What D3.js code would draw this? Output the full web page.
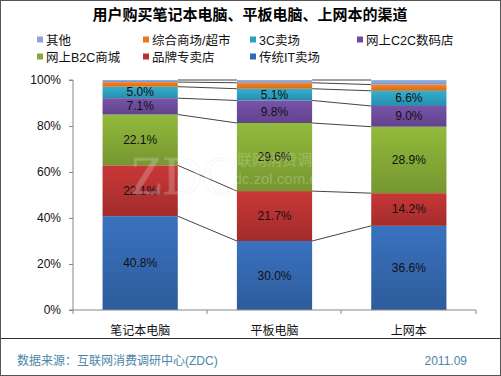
<!DOCTYPE html>
<html>
<head>
<meta charset="utf-8">
<script src="https://cdn.jsdelivr.net/npm/d3@7"></script>
<style>
  body { margin: 0; background: #fff; }
  svg { display: block; font-family: "Liberation Sans", Arial, "Noto Sans CJK SC", sans-serif; }
</style>
</head>
<body>
<svg width="501" height="376"></svg>
<script>
var categories = ["笔记本电脑", "平板电脑", "上网本"];
var seriesNames = ["传统IT卖场", "品牌专卖店", "网上B2C商城", "网上C2C数码店", "3C卖场", "综合商场/超市", "其他"];
var colors = ["#3468b0", "#b83232", "#86aa36", "#6e4c9c", "#2ea0c0", "#e87a1c", "#8aa6d8"];
var itStore = [40.8, 30.0, 36.6];
var brandStore = [22.1, 21.7, 14.2];
var b2c = [22.1, 29.6, 28.9];
var c2c = [7.1, 9.8, 9.0];
var store3c = [5.0, 5.1, 6.6];
var mall = [2.0, 2.6, 2.7];
var other = [0.9, 1.2, 2.0];
var yTicks = [0, 20, 40, 60, 80, 100];
var legendOrder = ["其他", "综合商场/超市", "3C卖场", "网上C2C数码店", "网上B2C商城", "品牌专卖店", "传统IT卖场"];

var values = [itStore, brandStore, b2c, c2c, store3c, mall, other];
var rows = categories.map(function(c, i) {
    var r = {cat: c};
    seriesNames.forEach(function(s, j) { r[s] = values[j][i]; });
    return r;
});

var svg = d3.select("svg");

// frame
svg.append("rect").attr("x", 0.5).attr("y", 0.5).attr("width", 500).attr("height", 375)
    .attr("fill", "#fff").attr("stroke", "#555");

var defs = svg.append("defs");
colors.forEach(function(c, i) {
    var g = defs.append("linearGradient").attr("id", "g" + i)
        .attr("x1", 0).attr("y1", 0).attr("x2", 0).attr("y2", 1);
    g.append("stop").attr("offset", "0%").attr("stop-color", d3.color(c).brighter(0.25));
    g.append("stop").attr("offset", "100%").attr("stop-color", d3.color(c).darker(0.35));
});

svg.append("text").attr("x", 250).attr("y", 20).attr("text-anchor", "middle")
    .style("font-size", "15px").style("font-weight", "bold")
    .style("font-family", "'Noto Sans CJK SC', sans-serif")
    .text("用户购买笔记本电脑、平板电脑、上网本的渠道");

// legend
var legendX = [37, 143, 250, 357];
var legendY = [40, 57];
legendOrder.forEach(function(name, i) {
    var col = i % 4, row = Math.floor(i / 4);
    var idx = seriesNames.indexOf(name);
    var g = svg.append("g").attr("transform", "translate(" + legendX[col] + "," + legendY[row] + ")");
    g.append("rect").attr("x", 0).attr("y", -3.5).attr("width", 6).attr("height", 6).attr("fill", colors[idx]);
    g.append("text").attr("x", 9).attr("y", 5).style("font-size", "12.5px").attr("fill", "#111").text(name);
});

var x = d3.scaleBand().domain(categories).range([73, 476]).paddingInner(0.44).paddingOuter(0.22);
var y = d3.scaleLinear().domain([0, 100]).range([310, 80]);

var stack = d3.stack().keys(seriesNames);
var series = stack(rows);

// connector lines
var lineG = svg.append("g");
series.forEach(function(s) {
    for (var i = 0; i < s.length - 1; i++) {
        lineG.append("line")
            .attr("x1", x(categories[i]) + x.bandwidth()).attr("y1", y(s[i][1]))
            .attr("x2", x(categories[i + 1])).attr("y2", y(s[i + 1][1]))
            .attr("stroke", "#444").attr("stroke-width", 1);
    }
});

var layer = svg.append("g").selectAll("g").data(series).join("g")
    .attr("fill", function(d, i) { return "url(#g" + i + ")"; });
layer.selectAll("rect").data(function(d) { return d; }).join("rect")
    .attr("x", function(d) { return x(d.data.cat); })
    .attr("y", function(d) { return y(d[1]); })
    .attr("width", x.bandwidth())
    .attr("height", function(d) { return y(d[0]) - y(d[1]); });

// watermark
var wm = svg.append("g").attr("opacity", 0.22).attr("fill", "#fff");
wm.append("text").attr("x", 130).attr("y", 194).style("font-size", "54px")
    .style("font-family", "'Liberation Serif', serif")
    .attr("stroke", "#ddd").attr("stroke-width", 1).text("ZDC");
wm.append("text").attr("x", 222).attr("y", 165).style("font-size", "15px")
    .style("font-family", "'Noto Sans CJK SC', sans-serif").text("互联网消费调研中心");
wm.append("text").attr("x", 226).attr("y", 184).style("font-size", "15px").text("zdc.zol.com.cn");

// value labels
layer.each(function(s, j) {
    if (j > 4) return;
    d3.select(this).selectAll("text").data(s).join("text")
        .attr("x", function(d) { return x(d.data.cat) + x.bandwidth() / 2; })
        .attr("y", function(d) { return (y(d[0]) + y(d[1])) / 2 + 4; })
        .attr("text-anchor", "middle").attr("fill", "#111")
        .style("font-size", "12px")
        .text(function(d) { return (d[1] - d[0]).toFixed(1) + "%"; });
});

// axes
var yAxis = svg.append("g").attr("transform", "translate(73,0)")
    .call(d3.axisLeft(y).tickValues(yTicks).tickSize(4).tickFormat(function(d) { return d + "%"; }));
yAxis.selectAll("text").style("font-size", "12px").attr("fill", "#111").attr("x", -12);
yAxis.select(".domain").attr("stroke", "#888").attr("d", "M-4,80H0V310H-4");
yAxis.selectAll(".tick line").attr("stroke", "#888");

var xAxis = svg.append("g").attr("transform", "translate(0,310)");
xAxis.append("line").attr("x1", 73).attr("x2", 476).attr("stroke", "#888");
[73, 207, 341, 476].forEach(function(t) {
    xAxis.append("line").attr("x1", t).attr("x2", t).attr("y1", 0).attr("y2", 4).attr("stroke", "#888");
});
categories.forEach(function(c) {
    xAxis.append("text").attr("x", x(c) + x.bandwidth() / 2).attr("y", 25)
        .attr("text-anchor", "middle").style("font-size", "12px").attr("fill", "#111").text(c);
});

// footer
svg.append("line").attr("x1", 1).attr("x2", 500).attr("y1", 338.5).attr("y2", 338.5)
    .attr("stroke", "#333").attr("stroke-width", 1);
svg.append("text").attr("x", 17).attr("y", 365).style("font-size", "12px").attr("fill", "#4a86a8")
    .text("数据来源：互联网消费调研中心(ZDC)");
svg.append("text").attr("x", 467).attr("y", 365).attr("text-anchor", "end")
    .style("font-size", "12px").attr("fill", "#4a86a8").text("2011.09");
</script>
</body>
</html>
